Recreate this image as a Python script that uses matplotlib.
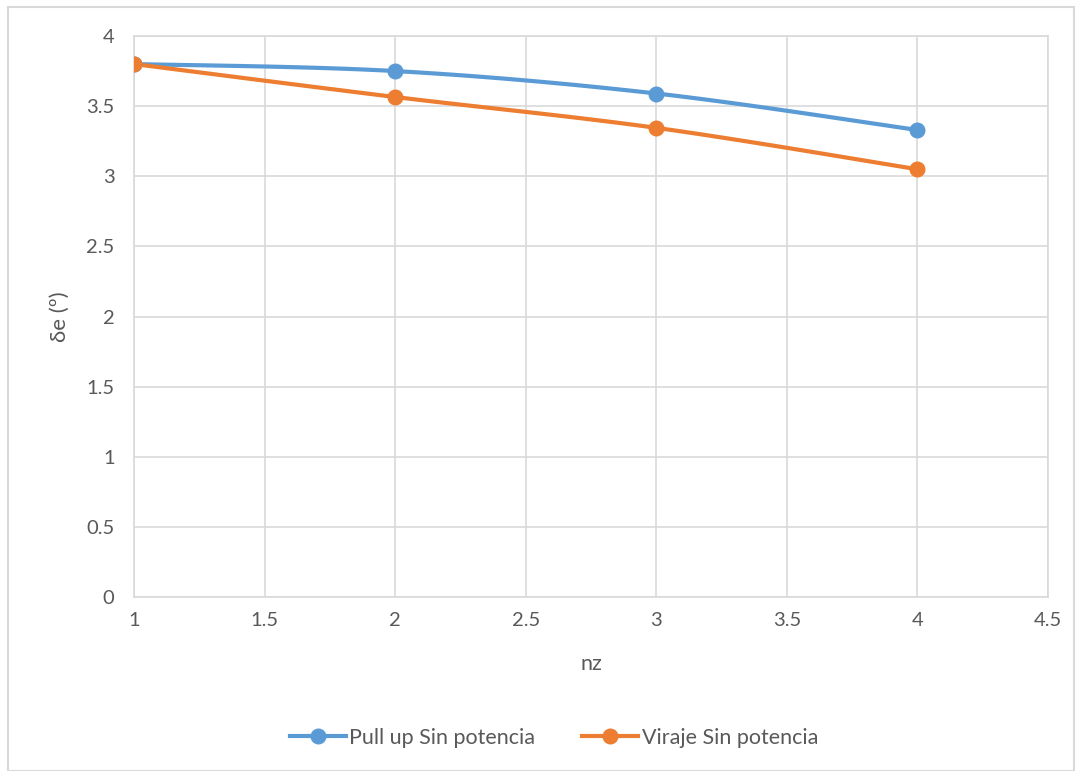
import numpy as np
import matplotlib
matplotlib.use("Agg")
import matplotlib.pyplot as plt
from matplotlib.patches import Rectangle

nz = [1, 2, 3, 4]
pull_up = [3.80, 3.75, 3.59, 3.33]
viraje = [3.80, 3.565, 3.345, 3.05]
series_names = ["Pull up Sin potencia", "Viraje Sin potencia"]
colors = ["#5B9BD5", "#ED7D31"]

def smooth(x, y, n=40):
    # Catmull-Rom style Bezier (Excel-like smoothing) through data points
    x = np.asarray(x, float); y = np.asarray(y, float)
    px = np.concatenate([[x[0]], x, [x[-1]]])
    py = np.concatenate([[y[0]], y, [y[-1]]])
    xs, ys = [], []
    t = np.linspace(0, 1, n)
    for i in range(1, len(px) - 2):
        p0 = np.array([px[i], py[i]]); p3 = np.array([px[i+1], py[i+1]])
        p1 = p0 + (np.array([px[i+1], py[i+1]]) - np.array([px[i-1], py[i-1]])) / 6
        p2 = p3 - (np.array([px[i+2], py[i+2]]) - np.array([px[i], py[i]])) / 6
        b = ((1-t)**3)[:, None]*p0 + (3*(1-t)**2*t)[:, None]*p1 + (3*(1-t)*t**2)[:, None]*p2 + (t**3)[:, None]*p3
        xs.extend(b[:, 0]); ys.extend(b[:, 1])
    return np.array(xs), np.array(ys)

plt.rcParams['font.family'] = ['Lato', 'DejaVu Sans']
text_color = "#595959"

fig = plt.figure(figsize=(10.82, 7.71), dpi=100)
ax = fig.add_axes([134/1082, 1-597/771, (1048-134)/1082, (597-36)/771])

for yv, name, c in zip([pull_up, viraje], series_names, colors):
    sx, sy = smooth(nz, yv)
    ax.plot(sx, sy, color=c, lw=3, solid_capstyle='round', zorder=3)
    ax.plot(nz, yv, 'o', color=c, ms=10.5, zorder=4)
    ax.plot([], [], '-o', color=c, lw=3, ms=10.5, label=name)

ax.set_xlim(1, 4.5)
ax.set_ylim(0, 4)
ax.set_xticks(np.arange(1, 4.51, 0.5))
ax.set_yticks(np.arange(0, 4.01, 0.5))
ax.set_xticklabels(["1", "1.5", "2", "2.5", "3", "3.5", "4", "4.5"])
ax.set_yticklabels(["0", "0.5", "1", "1.5", "2", "2.5", "3", "3.5", "4"])
ax.grid(True, color="#D9D9D9", lw=1.2)
ax.set_axisbelow(True)
for s in ax.spines.values():
    s.set_color("#D9D9D9"); s.set_linewidth(1.2)
ax.tick_params(length=0, labelsize=14.5, colors=text_color, pad=11)
ax.tick_params(axis='y', pad=14)
ax.set_xlabel("nz", fontsize=15.5, color=text_color, labelpad=18)
ax.set_ylabel("δe (º)", fontsize=16, color=text_color, labelpad=12)

leg = fig.legend(loc='center', bbox_to_anchor=(0.512, 1-738/771), ncol=2, frameon=False,
                 fontsize=15.5, handlelength=2.6, columnspacing=2.2, handletextpad=0.15)
for t in leg.get_texts():
    t.set_color(text_color)

fig.patches.append(Rectangle((8/1082, 0), 1 - 16/1082, 1 - 7/771, transform=fig.transFigure,
                             fill=False, edgecolor="#D9D9D9", lw=1.5))

fig.savefig("out.png", dpi=100)
